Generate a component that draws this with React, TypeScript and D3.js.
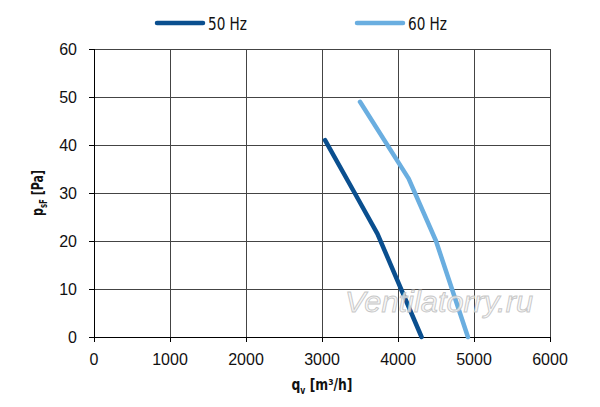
import React from "react";
import * as d3 from "d3";

const xTicks = [0, 1000, 2000, 3000, 4000, 5000, 6000];
const yTicks = [0, 10, 20, 30, 40, 50, 60];

const flow50 = [3040, 3430, 3730, 4310];
const press50 = [41, 30, 21.5, 0];
const flow60 = [3500, 4140, 4500, 4920];
const press60 = [49, 33, 20, 0];

const seriesNames = ["50 Hz", "60 Hz"];
const seriesColors = ["#0a4f8f", "#6aaee0"];

const narrow = "'Liberation Sans Narrow', 'DejaVu Sans Condensed', 'Roboto', sans-serif";

export default function App() {
  const width = 600;
  const height = 407;
  const margin = { left: 94, right: 50, top: 49, bottom: 70 };

  const x = d3.scaleLinear().domain([0, 6000]).range([margin.left, width - margin.right]);
  const y = d3.scaleLinear().domain([0, 60]).range([height - margin.bottom, margin.top]);

  const line = d3
    .line<[number, number]>()
    .x((d) => x(d[0]))
    .y((d) => y(d[1]));

  const series = [
    d3.zip(flow50, press50) as [number, number][],
    d3.zip(flow60, press60) as [number, number][],
  ];

  const snap = (v: number) => Math.round(v) + 0.5;

  return (
    <svg
      width={width}
      height={height}
      style={{ position: "absolute", left: 0, top: 0, background: "#fff" }}
    >
      {/* grid */}
      <g stroke="#444" strokeWidth={1}>
        {yTicks.slice(1).map((t) => (
          <line key={"h" + t} x1={x(0)} x2={x(6000)} y1={snap(y(t))} y2={snap(y(t))} />
        ))}
        {xTicks.slice(1).map((t) => (
          <line key={"v" + t} x1={snap(x(t))} x2={snap(x(t))} y1={y(60)} y2={y(0)} />
        ))}
      </g>

      {/* axes */}
      <g stroke="#000" strokeWidth={1}>
        <line x1={snap(x(0))} x2={snap(x(0))} y1={y(60)} y2={y(0) + 5} />
        <line x1={x(0) - 5} x2={x(6000)} y1={snap(y(0))} y2={snap(y(0))} />
        {yTicks.map((t) => (
          <line key={"yt" + t} x1={x(0) - 5} x2={x(0)} y1={snap(y(t))} y2={snap(y(t))} />
        ))}
        {xTicks.map((t) => (
          <line key={"xt" + t} x1={snap(x(t))} x2={snap(x(t))} y1={y(0)} y2={y(0) + 5} />
        ))}
      </g>

      {/* tick labels */}
      <g fontFamily="'Liberation Sans', Arial, sans-serif" fontSize={16} fill="#111">
        {yTicks.map((t) => (
          <text key={"yl" + t} x={x(0) - 17} y={y(t) + 6} textAnchor="end">
            {t}
          </text>
        ))}
        {xTicks.map((t) => (
          <text key={"xl" + t} x={x(t)} y={y(0) + 28} textAnchor="middle">
            {t}
          </text>
        ))}
      </g>

      {/* axis titles */}
      <text
        x={(x(0) + x(6000)) / 2}
        y={390}
        textAnchor="middle"
        fontFamily={narrow}
        fontWeight="bold"
        fontSize={16}
        fill="#111"
        textLength={61}
        lengthAdjust="spacingAndGlyphs"
      >
        q<tspan fontSize={10} dy={4}>v</tspan>
        <tspan dy={-4}> [m³/h]</tspan>
      </text>
      <text
        transform={`translate(43,${(y(0) + y(60)) / 2}) rotate(-90)`}
        textAnchor="middle"
        fontFamily={narrow}
        fontWeight="bold"
        fontSize={16}
        fill="#111"
        textLength={46}
        lengthAdjust="spacingAndGlyphs"
      >
        p<tspan fontSize={10} dy={4}>sF</tspan>
        <tspan dy={-4}> [Pa]</tspan>
      </text>

      {/* curves */}
      {series.map((s, i) => (
        <path
          key={seriesNames[i]}
          d={line(s) ?? ""}
          fill="none"
          stroke={seriesColors[i]}
          strokeWidth={4.5}
          strokeLinecap="round"
          strokeLinejoin="round"
        />
      ))}

      {/* watermark */}
      <text
        x={439}
        y={312}
        textAnchor="middle"
        fontFamily="'Liberation Sans', Arial, sans-serif"
        fontStyle="italic"
        fontSize={30}
        fill="#f4f4f4"
        fillOpacity={0.8}
        stroke="#bdbdbd"
        strokeWidth={0.9}
        strokeOpacity={0.85}
        textLength={188}
        lengthAdjust="spacingAndGlyphs"
      >
        Ventilatorry.ru
      </text>

      {/* legend */}
      {seriesNames.map((name, i) => (
        <g key={"lg" + name} transform={`translate(${157 + i * 200},23)`}>
          <line x1={0} x2={46} y1={0} y2={0} stroke={seriesColors[i]} strokeWidth={4.5} strokeLinecap="round" />
          <text
            x={51}
            y={6.5}
            fontFamily={narrow}
            fontSize={18}
            fill="#111"
            textLength={39}
            lengthAdjust="spacingAndGlyphs"
          >
            {name}
          </text>
        </g>
      ))}
    </svg>
  );
}
